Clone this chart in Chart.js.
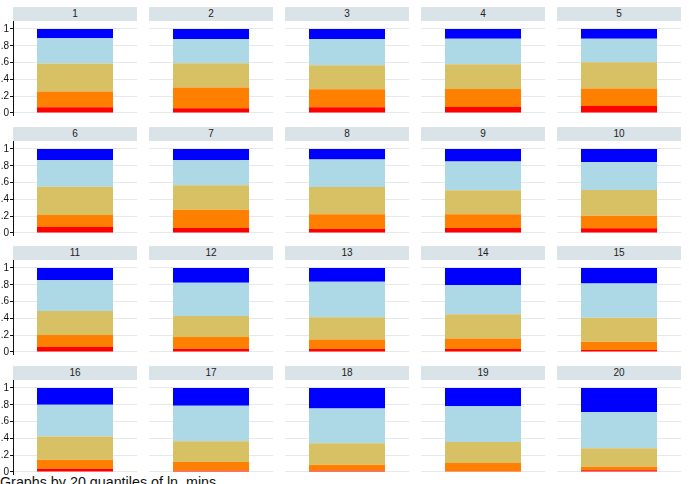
<!DOCTYPE html>
<html>
<head>
<meta charset="utf-8">
<script src="https://cdn.jsdelivr.net/npm/chart.js@4/dist/chart.umd.min.js"></script>
<style>
  html, body { margin: 0; padding: 0; background: #fff; }
  body { width: 689px; height: 484px; position: relative; overflow: hidden; font-family: "Liberation Sans", Arial, sans-serif; }
  .strip { position: absolute; background: #dae3e8; color: #222; font-size: 10px; text-align: center; line-height: 14px; height: 14px; }
  canvas { position: absolute; }
  .note { position: absolute; left: 0; top: 474px; font-size: 14.3px; line-height: 16px; color: #111; white-space: nowrap; }
</style>
</head>
<body>
<div class="note">Graphs by 20 quantiles of ln_mins</div>
<script>
const quantiles = ['1','2','3','4','5','6','7','8','9','10','11','12','13','14','15','16','17','18','19','20'];
const seriesNames = ['cat1','cat2','cat3','cat4','cat5'];
const red       = [0.067,0.055,0.067,0.071,0.083,0.071,0.059,0.047,0.059,0.055,0.059,0.039,0.035,0.035,0.024,0.039,0.016,0.016,0.008,0.020];
const orange    = [0.190,0.249,0.214,0.214,0.209,0.142,0.217,0.177,0.165,0.150,0.142,0.138,0.115,0.126,0.098,0.107,0.102,0.071,0.098,0.043];
const tan       = [0.332,0.289,0.288,0.296,0.313,0.338,0.291,0.323,0.284,0.307,0.287,0.252,0.263,0.288,0.284,0.275,0.248,0.256,0.252,0.220];
const lightblue = [0.300,0.288,0.312,0.304,0.280,0.319,0.299,0.327,0.342,0.334,0.370,0.394,0.422,0.346,0.409,0.378,0.421,0.413,0.425,0.430];
const blue      = [0.111,0.119,0.119,0.115,0.115,0.130,0.134,0.126,0.150,0.154,0.142,0.177,0.165,0.205,0.185,0.201,0.213,0.244,0.217,0.287];
const yTickValues = [0, 0.2, 0.4, 0.6, 0.8, 1];
const yTickLabels = ['0', '.2', '.4', '.6', '.8', '1'];

const seriesData = [red, orange, tan, lightblue, blue];
const seriesColors = ['#ff0000', '#ff7f00', '#d8c064', '#add8e6', '#0000ff'];

const COLS = 5;
const colX0 = 13, colPitch = 136, panelW = 124;
const rowPitch = 119.5;
const stripTop0 = 7, stripH = 14;
const canvasTop0 = 21, canvasH = 95, axisW = 13;

quantiles.forEach((q, i) => {
  const c = i % COLS, r = Math.floor(i / COLS);
  const x0 = colX0 + c * colPitch;
  const yOff = Math.round(r * rowPitch);

  const strip = document.createElement('div');
  strip.className = 'strip';
  strip.style.left = x0 + 'px';
  strip.style.top = (stripTop0 + yOff) + 'px';
  strip.style.width = panelW + 'px';
  strip.textContent = q;
  document.body.appendChild(strip);

  const cv = document.createElement('canvas');
  cv.width = panelW + axisW;
  cv.height = canvasH;
  cv.style.left = (x0 - axisW) + 'px';
  cv.style.top = (canvasTop0 + yOff) + 'px';
  cv.style.width = (panelW + axisW) + 'px';
  cv.style.height = canvasH + 'px';
  document.body.appendChild(cv);

  const first = c === 0;
  new Chart(cv.getContext('2d'), {
    type: 'bar',
    data: {
      labels: [q],
      datasets: seriesData.map((arr, k) => ({
        label: seriesNames[k],
        data: [arr[i]],
        backgroundColor: seriesColors[k],
        borderWidth: 0,
        barPercentage: 0.613,
        categoryPercentage: 1.0
      }))
    },
    options: {
      responsive: false,
      animation: false,
      devicePixelRatio: 1,
      layout: { padding: 0 },
      plugins: { legend: { display: false }, tooltip: { enabled: false }, title: { display: false } },
      scales: {
        x: { stacked: true, display: false },
        y: {
          stacked: true,
          min: -0.036,
          max: 1.095,
          afterBuildTicks: (s) => { s.ticks = yTickValues.map(v => ({ value: v })); },
          afterFit: (s) => { s.width = axisW; s.paddingTop = 0; s.paddingBottom = 0; },
          ticks: {
            display: first,
            padding: 1,
            font: { size: 10, family: '"Liberation Sans", Arial, sans-serif' },
            color: '#111',
            callback: (v) => { const idx = yTickValues.indexOf(v); return idx >= 0 ? yTickLabels[idx] : ''; }
          },
          grid: {
            color: '#e6e9eb',
            lineWidth: 1,
            drawTicks: first,
            tickLength: 3,
            tickColor: '#111'
          },
          border: { display: first, color: '#111', width: 1 }
        }
      }
    }
  });
});
</script>
</body>
</html>
